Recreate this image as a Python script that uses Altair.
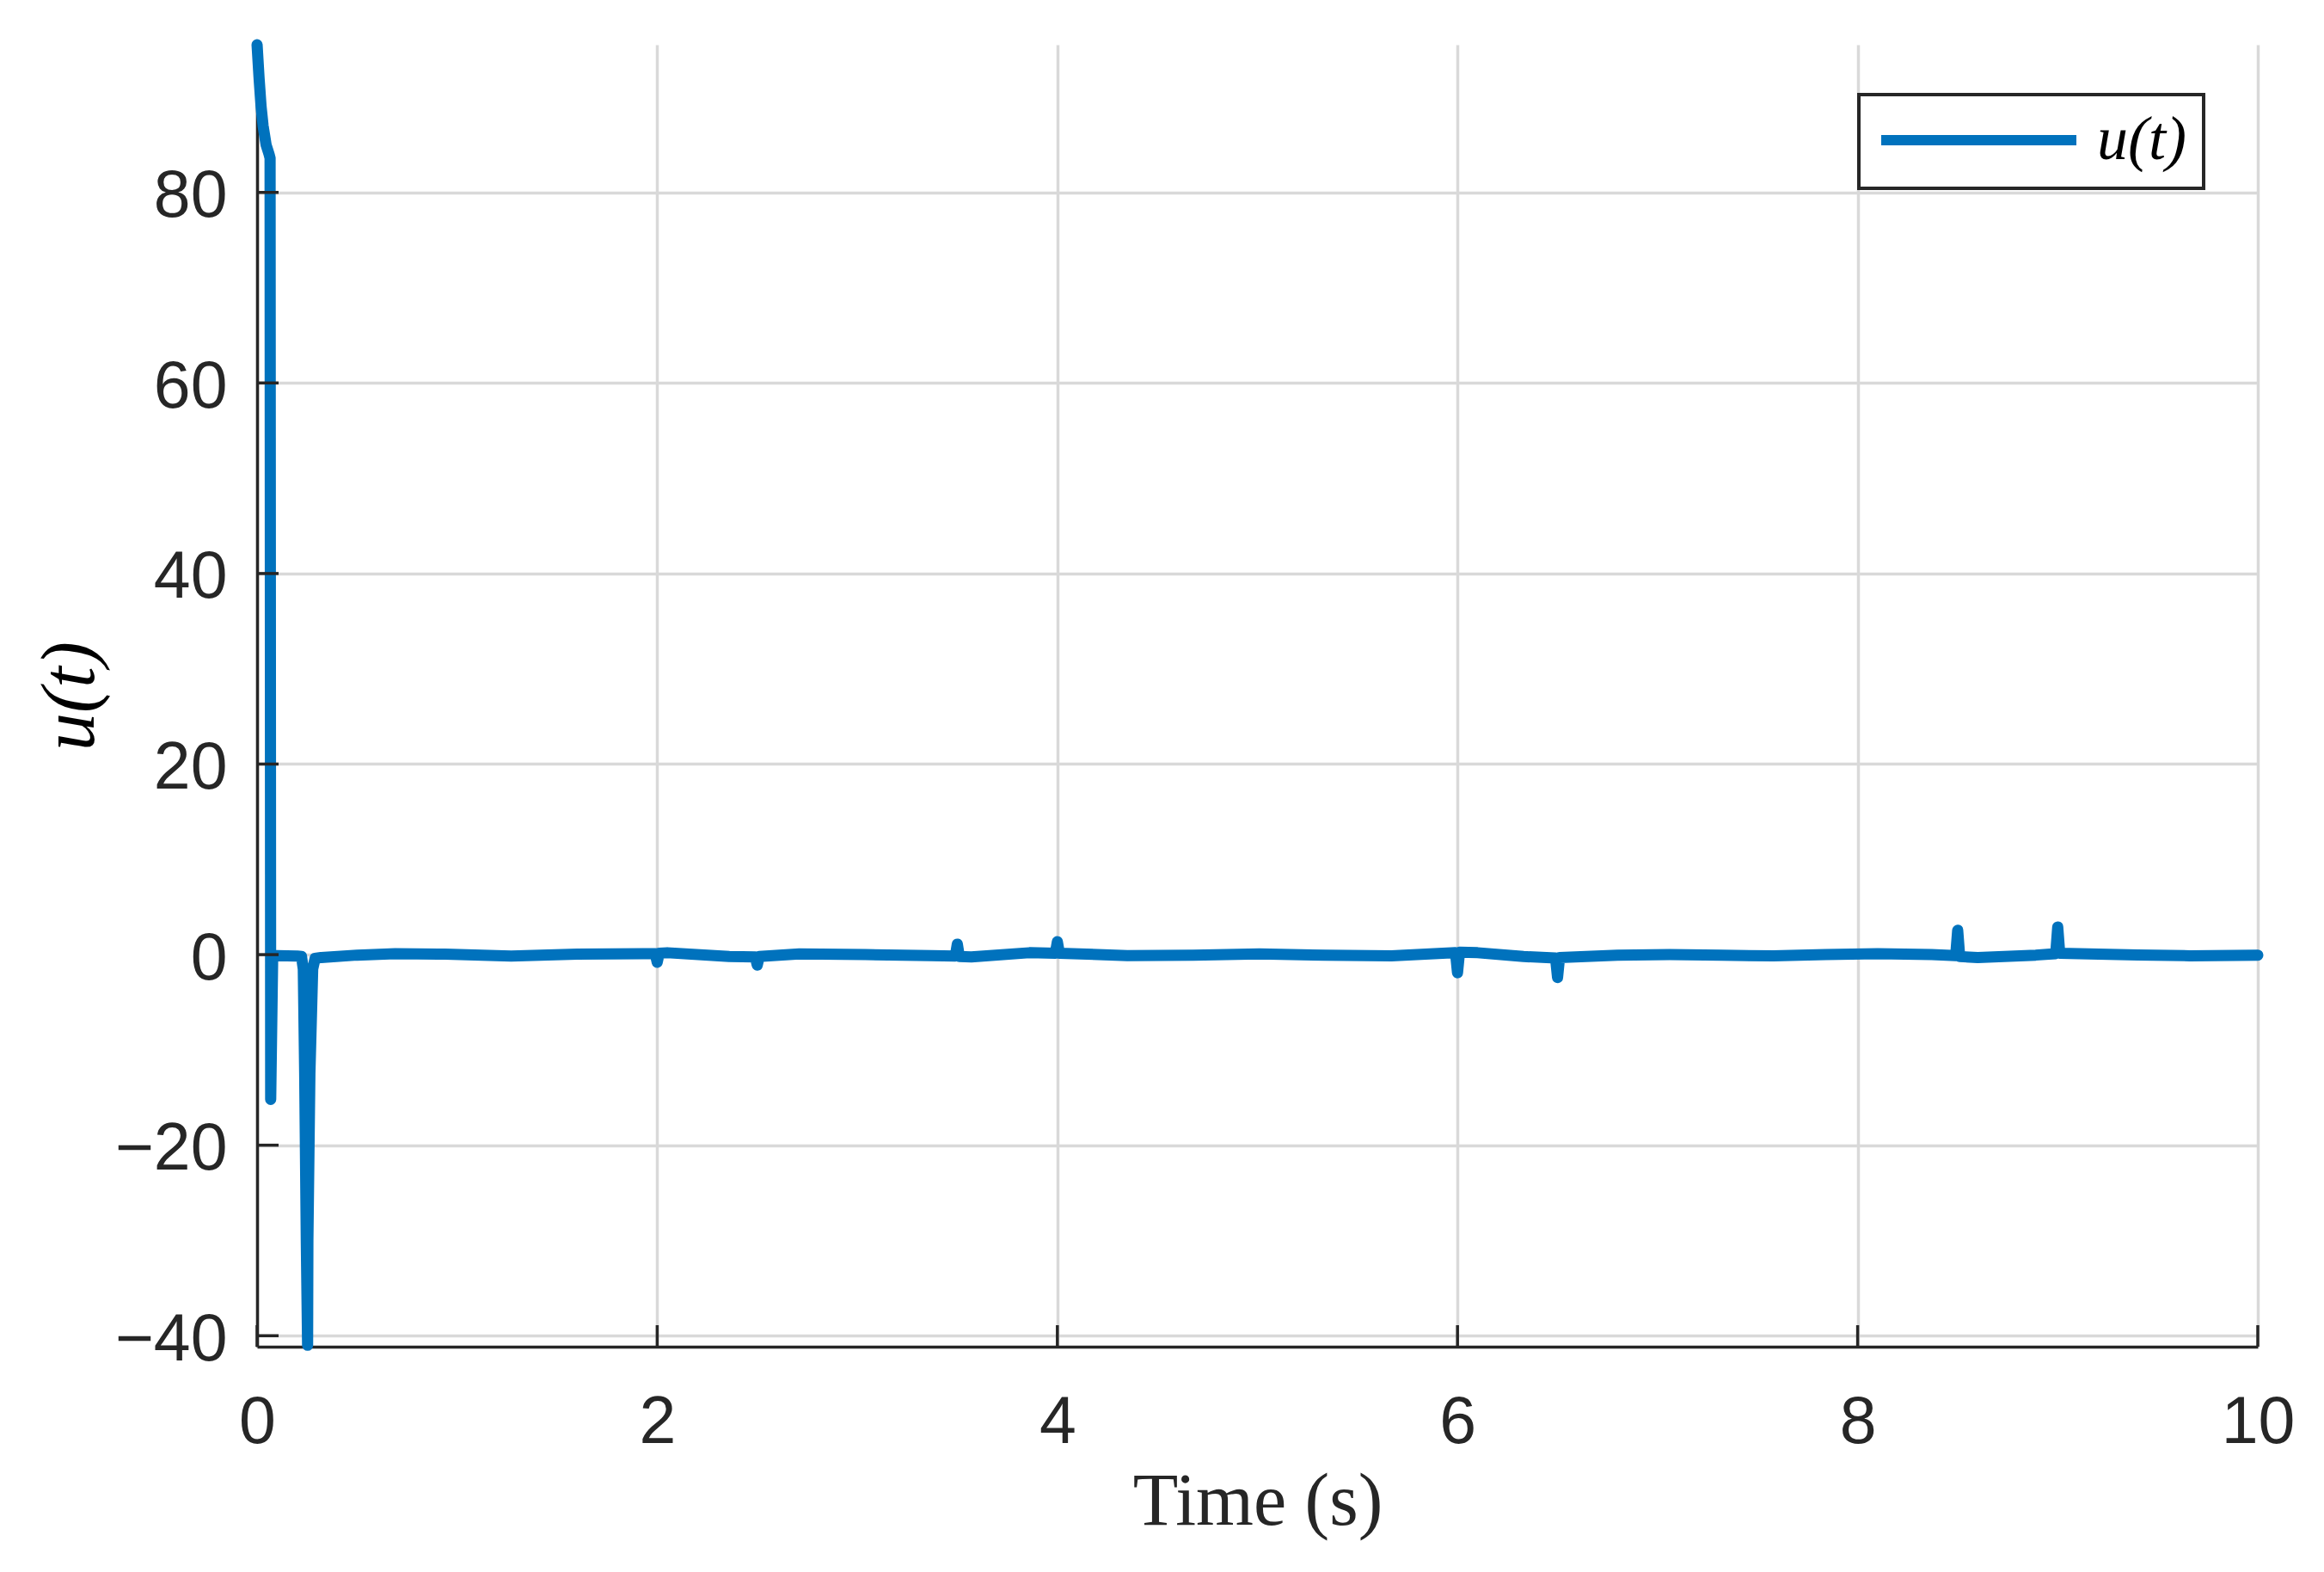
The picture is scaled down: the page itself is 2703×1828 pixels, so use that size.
import altair as alt
import pandas as pd

# ---- data ----
T = [0.0, 0.01, 0.02, 0.03, 0.045, 0.06, 0.065, 0.068, 0.078,
     0.1, 0.2, 0.222, 0.231, 0.238, 0.246, 0.2525, 0.254, 0.264, 0.278, 0.29,
     0.32, 0.5, 0.69, 0.94, 1.27, 1.6, 1.93,
     1.99, 2.0, 2.01, 2.05, 2.36, 2.49, 2.5, 2.51, 2.71, 3.04, 3.37,
     3.49, 3.5, 3.51, 3.57, 3.86, 3.99, 4.0, 4.01, 4.35, 4.68, 5.01, 5.34, 5.67,
     5.99, 6.0, 6.01, 6.1, 6.33, 6.49, 6.5, 6.51, 6.8, 7.06, 7.32, 7.58, 7.84,
     8.1, 8.37, 8.49, 8.5, 8.51, 8.6, 8.89, 8.99, 9.0, 9.01, 9.4, 9.66, 10.0]
U = [95.5, 92.0, 89.0, 87.0, 85.0, 84.0, 83.6, -15.2, -0.2,
     -0.1, -0.15, -0.2, -1.5, -12.5, -30.0, -41.0, -30.0, -12.5, -1.5, -0.4,
     -0.3, -0.05, 0.1, 0.05, -0.15, 0.05, 0.1,
     0.1, -0.8, 0.15, 0.2, -0.2, -0.25, -1.1, -0.2, 0.08, 0.0, -0.1,
     -0.15, 1.1, -0.2, -0.24, 0.2, 0.15, 1.35, 0.15, -0.1, -0.05, 0.08, -0.07, -0.12,
     0.2, -1.9, 0.25, 0.2, -0.2, -0.35, -2.4, -0.3, -0.05, 0.0, -0.07, -0.13, 0.0,
     0.1, 0.0, -0.1, 2.55, -0.2, -0.3, -0.05, 0.1, 2.9, 0.15, -0.03, -0.12, -0.05]
SERIES = "u(t)"
X_TICKS = [0, 2, 4, 6, 8, 10]
Y_TICKS = [-40, -20, 0, 20, 40, 60, 80]
X_DOMAIN = [0, 10]
Y_DOMAIN = [-41.15, 95.5]

W, H = 2327, 1514
AX = "#262626"
BLUE = "#0072BD"
GRID = "#d9d9d9"
TICK_LEN = 25

df = pd.DataFrame({"t": T, "u": U, "series": SERIES})
xt = pd.DataFrame({"v": X_TICKS})
yt = pd.DataFrame({"v": Y_TICKS})

x_scale = alt.Scale(domain=X_DOMAIN, nice=False, zero=False)
y_scale = alt.Scale(domain=Y_DOMAIN, nice=False, zero=False)

x_axis = alt.Axis(values=X_TICKS, title="Time (s)", grid=True, gridColor=GRID,
                  gridWidth=3.5, ticks=False, tickSize=0, domain=True, domainColor=AX,
                  domainWidth=3.5, labelFont="Liberation Sans", labelFontSize=77,
                  labelColor=AX, labelPadding=50, labelFlush=False,
                  titleFont="Liberation Serif", titleFontSize=86,
                  titleFontWeight="normal", titleColor=AX,
                  titleBaseline="alphabetic", titleY=206)
y_axis = alt.Axis(values=Y_TICKS, title="u(t)", grid=True, gridColor=GRID,
                  gridWidth=3.5, ticks=False, tickSize=0, domain=True, domainColor=AX,
                  domainWidth=3.5, labelFont="Liberation Sans", labelFontSize=77,
                  labelColor=AX, labelPadding=35, labelFlush=False, labelOffset=5,
                  titleFont="Liberation Serif", titleFontSize=88,
                  titleFontStyle="italic", titleFontWeight="normal", titleColor="black",
                  titleBaseline="alphabetic", titleX=-191, titleY=H / 2)

line = alt.Chart(df).mark_line(
    strokeWidth=13, strokeCap="round", strokeJoin="round", clip=False
).encode(
    x=alt.X("t:Q", scale=x_scale, axis=x_axis),
    y=alt.Y("u:Q", scale=y_scale, axis=y_axis),
    color=alt.Color("series:N",
                    scale=alt.Scale(domain=[SERIES], range=[BLUE]),
                    legend=alt.Legend(orient="none", legendX=1863, legendY=58,
                                      title=None, symbolType="stroke",
                                      symbolSize=227 * 227, symbolStrokeWidth=12,
                                      clipHeight=66,
                                      labelFont="Liberation Serif",
                                      labelFontStyle="italic", labelFontSize=72,
                                      labelColor="black", labelOffset=18,
                                      padding=20, strokeColor=AX, fillColor="white",
                                      cornerRadius=0)),
    order=alt.Order("t:Q"),
)

xticks = alt.Chart(xt).mark_rule(color=AX, strokeWidth=3.5).encode(
    x=alt.X("v:Q", scale=x_scale, axis=x_axis),
    y=alt.value(H),
    y2=alt.value(H - TICK_LEN),
)
yticks = alt.Chart(yt).mark_rule(color=AX, strokeWidth=3.5).encode(
    y=alt.Y("v:Q", scale=y_scale, axis=y_axis),
    x=alt.value(0),
    x2=alt.value(TICK_LEN),
)

chart = alt.layer(line, xticks, yticks).properties(
    width=W, height=H,
    autosize=alt.AutoSizeParams(type="none"),
    padding={"left": 291, "top": 44, "right": 60, "bottom": 240},
    background="white",
).configure_view(stroke=None).configure_legend(strokeWidth=4)

chart.save("out.html", embed_options={"renderer": "svg", "actions": False})
